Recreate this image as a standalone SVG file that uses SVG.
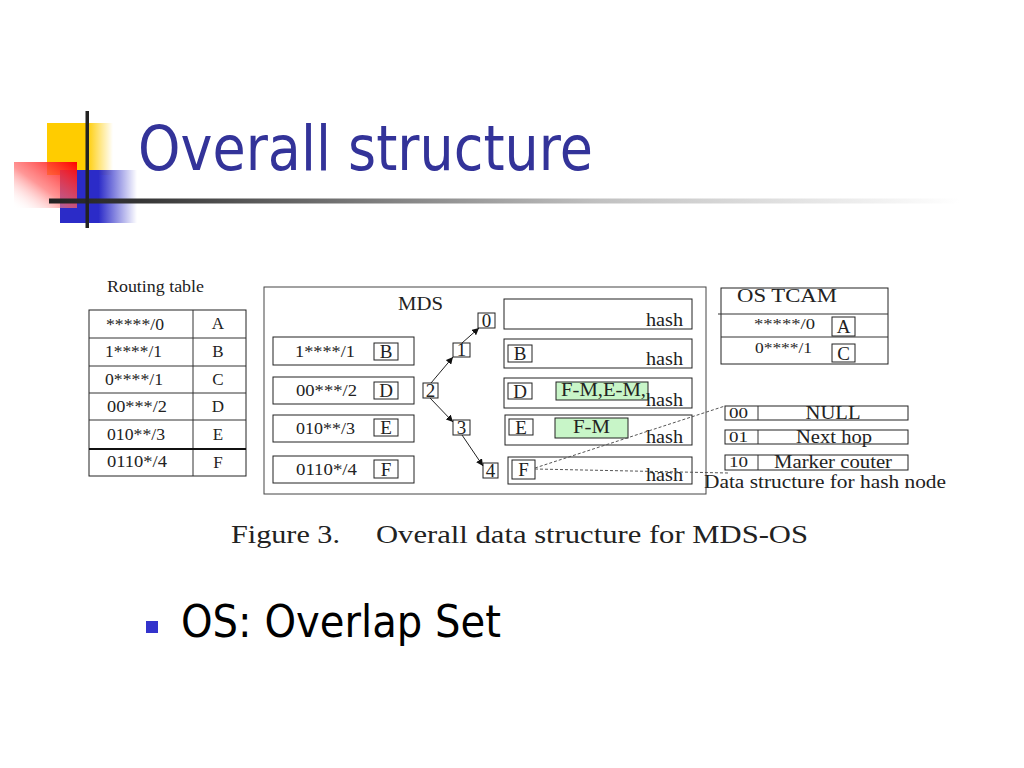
<svg xmlns="http://www.w3.org/2000/svg" width="1024" height="768" viewBox="0 0 1024 768">
<defs>
<linearGradient id="gYellow" x1="0" y1="0" x2="1" y2="0">
<stop offset="0" stop-color="#ffcc00"/><stop offset="0.6" stop-color="#ffcc00"/><stop offset="1" stop-color="#ffcc00" stop-opacity="0"/>
</linearGradient>
<linearGradient id="gBlue" x1="0" y1="0" x2="1" y2="0">
<stop offset="0" stop-color="#2b2bc8"/><stop offset="0.5" stop-color="#2b2bc8"/><stop offset="1" stop-color="#2b2bc8" stop-opacity="0"/>
</linearGradient>
<linearGradient id="gRed" x1="1" y1="0" x2="0" y2="1">
<stop offset="0" stop-color="#ff0000"/><stop offset="0.55" stop-color="#ff6a6a" stop-opacity="0.7"/><stop offset="1" stop-color="#ffffff" stop-opacity="0"/>
</linearGradient>
<linearGradient id="gLine" gradientUnits="userSpaceOnUse" x1="49" y1="0" x2="960" y2="0">
<stop offset="0" stop-color="#222"/><stop offset="0.09" stop-color="#333"/><stop offset="0.6" stop-color="#c0c0c0"/><stop offset="1" stop-color="#ffffff"/>
</linearGradient>
<marker id="arr" viewBox="0 0 10 10" refX="10" refY="5" markerWidth="7" markerHeight="7" orient="auto" markerUnits="userSpaceOnUse">
<path d="M0,0 L10,5 L0,10 z" fill="#111"/>
</marker>
<style>
.t{font-family:"Liberation Serif","Times New Roman",serif;fill:#222}
.c{text-anchor:middle}
.box{fill:#fff;stroke:#222;stroke-width:1}
.lb{fill:none;stroke:#222;stroke-width:1}
.gr{fill:#c8f5c8;stroke:#222;stroke-width:1}
.ln{stroke:#333;stroke-width:1}
.dash{stroke:#555;stroke-width:1;stroke-dasharray:3 2;fill:none}
.ar{stroke:#222;stroke-width:1;fill:none;marker-end:url(#arr)}
</style>
</defs>
<rect width="1024" height="768" fill="#fff"/>

<g id="decoration">
<rect x="47" y="123" width="66" height="52" fill="url(#gYellow)"/>
<rect x="60" y="170" width="77" height="53" fill="url(#gBlue)"/>
<rect x="14" y="162" width="63" height="46" fill="url(#gRed)"/>
<rect x="49" y="198.5" width="911" height="5" fill="url(#gLine)"/>
<rect x="85.5" y="111" width="3.5" height="117" fill="#222"/>
</g>

<g id="title">
<text x="138" y="170" font-family="'DejaVu Sans','Liberation Sans',sans-serif" font-size="62" fill="#333399" textLength="455" lengthAdjust="spacingAndGlyphs">Overall structure</text>
</g>

<g id="routing-table">
<text class="t" x="107" y="292" font-size="17" textLength="97" lengthAdjust="spacingAndGlyphs">Routing table</text>
<rect class="lb" x="89" y="310" width="157" height="166"/>
<line class="ln" x1="193" y1="310" x2="193" y2="476"/>
<line class="ln" x1="89" y1="338" x2="246" y2="338"/>
<line class="ln" x1="89" y1="366" x2="246" y2="366"/>
<line class="ln" x1="89" y1="393" x2="246" y2="393"/>
<line class="ln" x1="89" y1="420" x2="246" y2="420"/>
<line x1="89" y1="449" x2="246" y2="449" stroke="#111" stroke-width="2"/>
<g font-size="16">
<text class="t" x="106" y="330" textLength="58" lengthAdjust="spacingAndGlyphs">*****/0</text>
<text class="t" x="105" y="357" textLength="57" lengthAdjust="spacingAndGlyphs">1****/1</text>
<text class="t" x="105" y="385" textLength="58" lengthAdjust="spacingAndGlyphs">0****/1</text>
<text class="t" x="107" y="412" textLength="60" lengthAdjust="spacingAndGlyphs">00***/2</text>
<text class="t" x="107" y="440" textLength="58" lengthAdjust="spacingAndGlyphs">010**/3</text>
<text class="t" x="107" y="467" textLength="60" lengthAdjust="spacingAndGlyphs">0110*/4</text>
</g>
<g font-size="17">
<text class="t c" x="218" y="329">A</text>
<text class="t c" x="218" y="357">B</text>
<text class="t c" x="218" y="385">C</text>
<text class="t c" x="218" y="412">D</text>
<text class="t c" x="218" y="440">E</text>
<text class="t c" x="218" y="468">F</text>
</g>
</g>

<g id="mds">
<rect x="264" y="287" width="442" height="207" fill="none" stroke="#444" stroke-width="1"/>
<text class="t" x="398" y="310" font-size="19" textLength="45" lengthAdjust="spacingAndGlyphs">MDS</text>
</g>

<g id="mds-prefix-B">
<rect class="box" x="273" y="337" width="141" height="28"/>
<text class="t" x="295" y="357" font-size="17" textLength="60" lengthAdjust="spacingAndGlyphs">1****/1</text>
<rect class="box" x="374" y="343" width="24" height="17"/>
<text class="t c" x="386" y="358" font-size="19">B</text>
</g>
<g id="mds-prefix-D">
<rect class="box" x="273" y="377" width="141" height="27"/>
<text class="t" x="296" y="396" font-size="17" textLength="61" lengthAdjust="spacingAndGlyphs">00***/2</text>
<rect class="box" x="374" y="382" width="24" height="17"/>
<text class="t c" x="386" y="397" font-size="19">D</text>
</g>
<g id="mds-prefix-E">
<rect class="box" x="273" y="415" width="141" height="27"/>
<text class="t" x="296" y="434" font-size="17" textLength="59" lengthAdjust="spacingAndGlyphs">010**/3</text>
<rect class="box" x="374" y="419" width="24" height="17"/>
<text class="t c" x="386" y="434" font-size="19">E</text>
</g>
<g id="mds-prefix-F">
<rect class="box" x="273" y="456" width="141" height="27"/>
<text class="t" x="296" y="475" font-size="17" textLength="61" lengthAdjust="spacingAndGlyphs">0110*/4</text>
<rect class="box" x="374" y="460" width="24" height="18"/>
<text class="t c" x="386" y="476" font-size="19">F</text>
</g>

<g id="node-0"><rect class="box" x="478" y="313" width="17" height="15"/><text class="t c" x="486.5" y="327" font-size="19">0</text></g>
<g id="node-1"><rect class="box" x="453" y="343" width="17" height="14"/><text class="t c" x="461.5" y="356" font-size="19">1</text></g>
<g id="node-2"><rect class="box" x="423" y="383" width="15" height="15"/><text class="t c" x="430.5" y="397" font-size="19">2</text></g>
<g id="node-3"><rect class="box" x="453" y="420" width="17" height="15"/><text class="t c" x="461.5" y="434" font-size="19">3</text></g>
<g id="node-4"><rect class="box" x="483" y="463" width="15" height="15"/><text class="t c" x="490.5" y="477" font-size="19">4</text></g>

<g id="hash-0">
<rect class="box" x="504" y="299" width="188" height="30"/>
<text class="t" x="646" y="326" font-size="19" textLength="37" lengthAdjust="spacingAndGlyphs">hash</text>
</g>
<g id="hash-1">
<rect class="box" x="504" y="339" width="188" height="29"/>
<rect class="box" x="508" y="345" width="24" height="17"/>
<text class="t c" x="520" y="360" font-size="19">B</text>
<text class="t" x="646" y="365" font-size="19" textLength="37" lengthAdjust="spacingAndGlyphs">hash</text>
</g>
<g id="hash-2">
<rect class="box" x="504" y="378" width="188" height="30"/>
<rect class="box" x="508" y="383" width="24" height="16"/>
<text class="t c" x="520" y="398" font-size="19">D</text>
<rect class="gr" x="556" y="382" width="92" height="18"/>
<text class="t" x="561" y="396" font-size="19" textLength="85" lengthAdjust="spacingAndGlyphs">F-M,E-M,</text>
<text class="t" x="646" y="406" font-size="19" textLength="37" lengthAdjust="spacingAndGlyphs">hash</text>
</g>
<g id="hash-3">
<rect class="box" x="505" y="415" width="187" height="30"/>
<rect class="box" x="509" y="419" width="24" height="16"/>
<text class="t c" x="521" y="434" font-size="19">E</text>
<rect class="gr" x="555" y="418" width="73" height="20"/>
<text class="t" x="573" y="433" font-size="19" textLength="37" lengthAdjust="spacingAndGlyphs">F-M</text>
<text class="t" x="646" y="443" font-size="19" textLength="37" lengthAdjust="spacingAndGlyphs">hash</text>
</g>
<g id="hash-4">
<rect class="box" x="508" y="457" width="184" height="27"/>
<rect class="box" x="512" y="460" width="23" height="19"/>
<text class="t c" x="523.5" y="476" font-size="19">F</text>
<text class="t" x="646" y="481" font-size="19" textLength="37" lengthAdjust="spacingAndGlyphs">hash</text>
</g>

<g id="os-tcam">
<rect class="lb" x="721" y="288" width="167" height="76"/>
<line class="ln" x1="718" y1="314" x2="888" y2="314"/>
<line class="ln" x1="721" y1="337" x2="888" y2="337"/>
<text class="t" x="737" y="302" font-size="18" textLength="100" lengthAdjust="spacingAndGlyphs">OS  TCAM</text>
<text class="t" x="754" y="329" font-size="15" textLength="61" lengthAdjust="spacingAndGlyphs">*****/0</text>
<text class="t" x="755" y="353" font-size="15" textLength="57" lengthAdjust="spacingAndGlyphs">0****/1</text>
<rect class="box" x="832" y="317" width="23" height="19"/>
<text class="t c" x="843.5" y="333" font-size="19">A</text>
<rect class="box" x="832" y="344" width="23" height="18"/>
<text class="t c" x="843.5" y="360" font-size="19">C</text>
</g>

<g id="hash-node-structure">
<rect class="lb" x="725" y="406" width="183" height="14"/>
<line class="ln" x1="758" y1="406" x2="758" y2="420"/>
<text class="t" x="729" y="418" font-size="15" fill="#444" textLength="19" lengthAdjust="spacingAndGlyphs">00</text>
<text class="t c" x="833" y="419" font-size="18" textLength="55" lengthAdjust="spacingAndGlyphs">NULL</text>
<rect class="lb" x="725" y="430" width="183" height="14"/>
<line class="ln" x1="758" y1="430" x2="758" y2="444"/>
<text class="t" x="729" y="442" font-size="15" textLength="19" lengthAdjust="spacingAndGlyphs">01</text>
<text class="t c" x="834" y="443" font-size="18" textLength="76" lengthAdjust="spacingAndGlyphs">Next hop</text>
<rect class="lb" x="725" y="455" width="183" height="15"/>
<line class="ln" x1="758" y1="455" x2="758" y2="470"/>
<text class="t" x="729" y="467" font-size="15" textLength="19" lengthAdjust="spacingAndGlyphs">10</text>
<text class="t c" x="833" y="468" font-size="18" textLength="118" lengthAdjust="spacingAndGlyphs">Marker couter</text>
<text class="t" x="704" y="488" font-size="19" textLength="242" lengthAdjust="spacingAndGlyphs">Data structure for hash node</text>
</g>

<g id="connectors">
<line class="ar" x1="431" y1="383" x2="453" y2="357"/>
<line class="ar" x1="462" y1="343" x2="479" y2="328"/>
<line class="ar" x1="430" y1="398" x2="453" y2="422"/>
<line class="ar" x1="462" y1="435" x2="483" y2="466"/>
<line class="dash" x1="535" y1="468" x2="725" y2="406"/>
<line class="dash" x1="535" y1="469" x2="728" y2="473"/>
</g>

<g id="figure-caption">
<text class="t" x="231" y="543" font-size="25" textLength="109" lengthAdjust="spacingAndGlyphs">Figure 3.</text>
<text class="t" x="376" y="543" font-size="25" textLength="432" lengthAdjust="spacingAndGlyphs">Overall data structure for MDS-OS</text>
</g>

<g id="bullet">
<rect x="146" y="621" width="12" height="12" fill="#3333cc"/>
<text x="181" y="637" font-family="'DejaVu Sans','Liberation Sans',sans-serif" font-size="45" fill="#000" textLength="320" lengthAdjust="spacingAndGlyphs">OS: Overlap Set</text>
</g>
</svg>
